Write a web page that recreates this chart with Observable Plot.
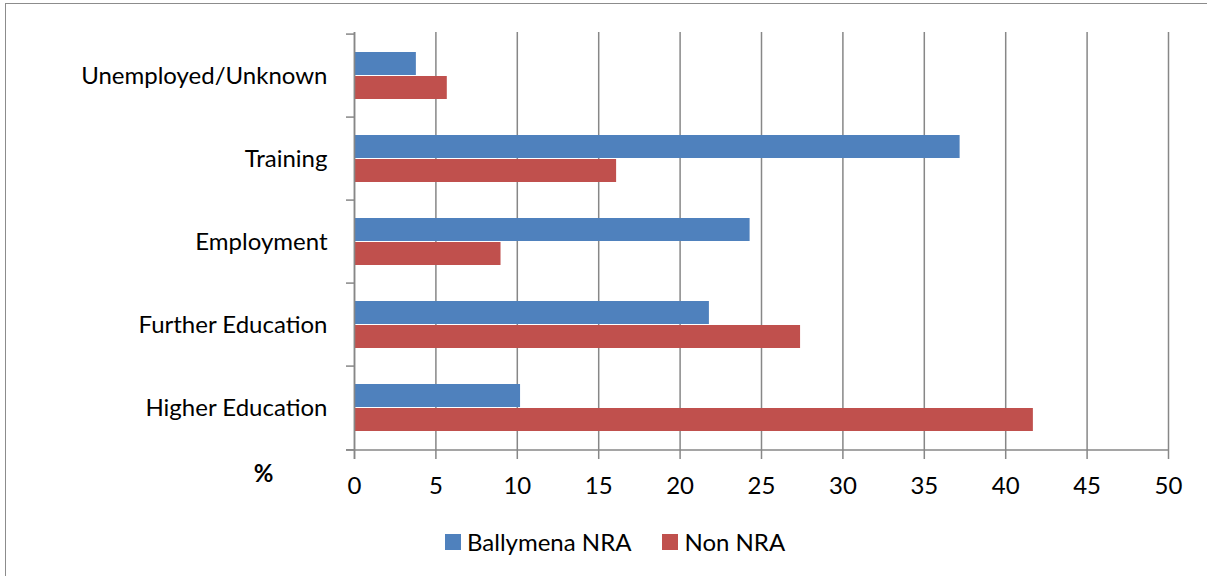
<!DOCTYPE html>
<html>
<head>
<meta charset="utf-8">
<script src="https://cdn.jsdelivr.net/npm/d3@7"></script>
<script src="https://cdn.jsdelivr.net/npm/@observablehq/plot@0.6"></script>
<style>
  body { margin: 0; background: #fff; }
  #wrap { position: relative; width: 1207px; height: 576px; overflow: hidden; font-family: Lato, sans-serif; }
  #border { position: absolute; left: 5px; top: 3px; width: 1400px; height: 800px;
            border-left: 1.5px solid #8c8c8c; border-top: 1.5px solid #8c8c8c; }
  #chart { position: absolute; left: 0; top: 0; }
  #legend { position: absolute; left: 445px; top: 527px; display: flex; align-items: center;
            font-size: 24px; color: #000; line-height: 30px; }
  .item { display: flex; align-items: center; margin-right: 31px; }
  .sw { width: 16px; height: 16px; margin-right: 6px; }
</style>
</head>
<body>
<div id="wrap">
  <div id="border"></div>
  <div id="chart"></div>
  <div id="legend"></div>
</div>
<script>
const categories = ["Unemployed/Unknown", "Training", "Employment", "Further Education", "Higher Education"];
const ballymenaNRA = [3.8, 37.2, 24.3, 21.8, 10.2];
const nonNRA = [5.7, 16.1, 9.0, 27.4, 41.7];
const seriesNames = ["Ballymena NRA", "Non NRA"];
const seriesColors = ["#4F81BD", "#C0504D"];
const xTicks = [0, 5, 10, 15, 20, 25, 30, 35, 40, 45, 50];
const xUnit = "%";

const W = 1207, H = 576, mTop = 32, mBottom = 125, mLeft = 354, mRight = 39;
const step = (H - mTop - mBottom) / categories.length;
const gridColor = "#878787";

const blueRows = categories.map((c, i) => ({category: c, value: ballymenaNRA[i]}));
const redRows = categories.map((c, i) => ({category: c, value: nonNRA[i]}));

const chart = Plot.plot({
  width: W, height: H,
  marginTop: mTop, marginBottom: mBottom, marginLeft: mLeft, marginRight: mRight,
  style: {fontFamily: "Lato, sans-serif", fontSize: "24px", color: "#000", background: "transparent"},
  x: {domain: [0, 50]},
  y: {domain: categories, padding: 0},
  marks: [
    Plot.gridX({ticks: xTicks, stroke: gridColor, strokeOpacity: 1, strokeWidth: 1.5}),
    Plot.barX(blueRows, {x: "value", y: "category", fill: seriesColors[0], insetTop: 18, insetBottom: 42}),
    Plot.barX(redRows, {x: "value", y: "category", fill: seriesColors[1], insetTop: 42, insetBottom: 18}),
    Plot.ruleX([0], {stroke: gridColor, strokeWidth: 1.5, insetBottom: -8}),
    Plot.ruleY([categories[categories.length - 1]], {x1: 0, x2: 50, dy: step / 2, insetLeft: -8, stroke: gridColor, strokeWidth: 1.5}),
    Plot.ruleY(categories, {x1: 0, x2: 0, dy: -step / 2, insetLeft: -8, stroke: gridColor, strokeWidth: 1.5}),
    Plot.ruleY([categories[categories.length - 1]], {x1: 0, x2: 0, dy: step / 2, insetLeft: -8, stroke: gridColor, strokeWidth: 1.5}),
    Plot.axisX({ticks: xTicks, tickSize: 8, tickPadding: 17, stroke: gridColor, strokeWidth: 1.5, fill: "#000", label: null, fontSize: 24}),
    Plot.axisY({tickSize: 0, tickPadding: 27, label: null, fill: "#000", fontSize: 24}),
    Plot.text([xUnit], {frameAnchor: "bottom-left", dx: -91, dy: 23, text: d => d, fontWeight: "bold", fontSize: 24, textAnchor: "middle", lineAnchor: "middle", fill: "#000"})
  ]
});
document.getElementById("chart").appendChild(chart);

const legend = document.getElementById("legend");
seriesNames.forEach((name, i) => {
  const item = document.createElement("div");
  item.className = "item";
  const sw = document.createElement("div");
  sw.className = "sw";
  sw.style.background = seriesColors[i];
  const label = document.createElement("span");
  label.textContent = name;
  item.appendChild(sw);
  item.appendChild(label);
  legend.appendChild(item);
});
</script>
</body>
</html>
